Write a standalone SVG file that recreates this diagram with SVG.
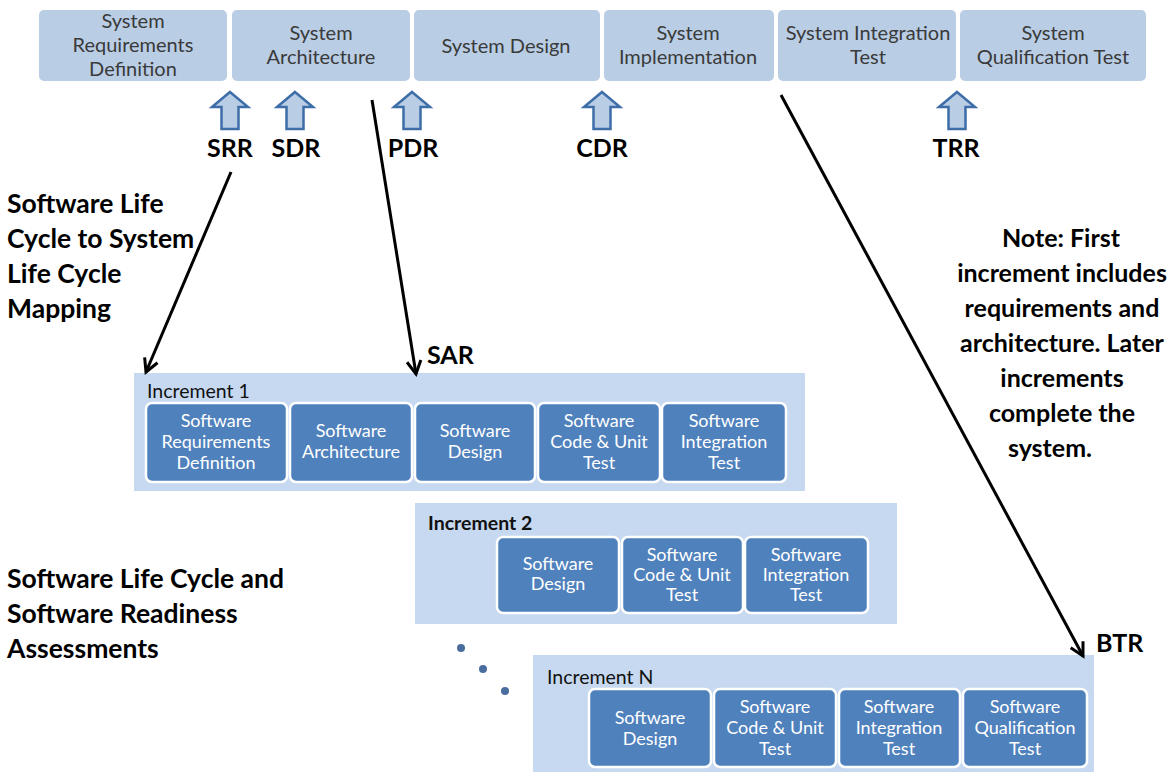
<svg xmlns="http://www.w3.org/2000/svg" width="1170" height="772" viewBox="0 0 1170 772">
  <defs>
    <style>
      .sys { fill: #b9cde5; stroke: #ffffff; stroke-width: 2; }
      .sys-t { font-family: Lato, "Liberation Sans", sans-serif; font-size: 20px; fill: #3a3a3a; text-anchor: middle; }
      .inc { fill: #c6d9f0; }
      .sw { fill: #4f81bd; stroke: #ffffff; stroke-width: 2.5; }
      .sw-t { font-family: Lato, "Liberation Sans", sans-serif; font-size: 18px; fill: #ffffff; text-anchor: middle; }
      .inc-t { font-family: Lato, "Liberation Sans", sans-serif; font-size: 19.5px; fill: #111111; }
      .big { font-family: Lato, "Liberation Sans", sans-serif; font-size: 25px; font-weight: 700; fill: #000000; }
      .cap { font-size: 26.5px; }
      .up { fill: #b9cde5; stroke: #3e6ea8; stroke-width: 2.5; stroke-linejoin: miter; }
      .conn { stroke: #000000; stroke-width: 3; fill: none; }
      .dot { fill: #4a6da0; }
    </style>
    <marker id="vhead" markerUnits="userSpaceOnUse" markerWidth="20" markerHeight="20" refX="15" refY="9" orient="auto">
      <path d="M2,2 L15,9 L2,16" fill="none" stroke="#000000" stroke-width="3"/>
    </marker>
    <path id="uparrow" class="up" d="M0,0 L18,15 L8.5,15 L8.5,37 L-8.5,37 L-8.5,15 L-18,15 Z"/>
  </defs>

  <rect width="1170" height="772" fill="#ffffff"/>

  <!-- system life cycle phases -->
  <g id="sys-req">
    <rect class="sys" x="38" y="9" width="190" height="73" rx="6"/>
    <text class="sys-t" x="133" y="28">System</text>
    <text class="sys-t" x="133" y="52">Requirements</text>
    <text class="sys-t" x="133" y="76">Definition</text>
  </g>
  <g id="sys-arch">
    <rect class="sys" x="231" y="9" width="180" height="73" rx="6"/>
    <text class="sys-t" x="321" y="40">System</text>
    <text class="sys-t" x="321" y="64">Architecture</text>
  </g>
  <g id="sys-design">
    <rect class="sys" x="413" y="9" width="188" height="73" rx="6"/>
    <text class="sys-t" x="506" y="53">System Design</text>
  </g>
  <g id="sys-impl">
    <rect class="sys" x="603" y="9" width="172" height="73" rx="6"/>
    <text class="sys-t" x="688" y="40">System</text>
    <text class="sys-t" x="688" y="64">Implementation</text>
  </g>
  <g id="sys-int">
    <rect class="sys" x="777" y="9" width="180" height="73" rx="6"/>
    <text class="sys-t" x="868" y="40">System Integration</text>
    <text class="sys-t" x="868" y="64">Test</text>
  </g>
  <g id="sys-qual">
    <rect class="sys" x="959" y="9" width="188" height="73" rx="6"/>
    <text class="sys-t" x="1053" y="40">System</text>
    <text class="sys-t" x="1053" y="64">Qualification Test</text>
  </g>

  <!-- review milestones -->
  <g id="srr">
    <use href="#uparrow" x="230" y="92"/>
    <text class="big" x="230" y="157" text-anchor="middle">SRR</text>
  </g>
  <g id="sdr">
    <use href="#uparrow" x="295" y="92"/>
    <text class="big" x="296" y="157" text-anchor="middle">SDR</text>
  </g>
  <g id="pdr">
    <use href="#uparrow" x="412" y="92"/>
    <text class="big" x="413" y="157" text-anchor="middle">PDR</text>
  </g>
  <g id="cdr">
    <use href="#uparrow" x="602" y="92"/>
    <text class="big" x="602" y="157" text-anchor="middle">CDR</text>
  </g>
  <g id="trr">
    <use href="#uparrow" x="957" y="92"/>
    <text class="big" x="956" y="157" text-anchor="middle">TRR</text>
  </g>

  <!-- side captions -->
  <g id="caption-mapping">
    <text class="big cap" x="7" y="213">Software Life</text>
    <text class="big cap" x="7" y="248">Cycle to System</text>
    <text class="big cap" x="7" y="283">Life Cycle</text>
    <text class="big cap" x="7" y="318">Mapping</text>
  </g>
  <g id="caption-readiness">
    <text class="big cap" x="7" y="588">Software Life Cycle and</text>
    <text class="big cap" x="7" y="623">Software Readiness</text>
    <text class="big cap" x="7" y="658">Assessments</text>
  </g>
  <g id="note" text-anchor="middle">
    <text class="big" x="1061" y="247">Note: First</text>
    <text class="big" x="1062" y="282">increment includes</text>
    <text class="big" x="1062" y="317">requirements and</text>
    <text class="big" x="1062" y="352">architecture. Later</text>
    <text class="big" x="1062" y="387">increments</text>
    <text class="big" x="1062" y="422">complete the</text>
    <text class="big" x="1050" y="457">system.</text>
  </g>

  <!-- increment 1 -->
  <g id="increment-1">
    <rect class="inc" x="134" y="373" width="671" height="118"/>
    <text class="inc-t" x="147" y="398">Increment 1</text>
    <rect class="sw" x="146" y="403" width="141" height="79" rx="6"/>
    <text class="sw-t" x="216" y="427">Software</text>
    <text class="sw-t" x="216" y="448">Requirements</text>
    <text class="sw-t" x="216" y="469">Definition</text>
    <rect class="sw" x="290" y="403" width="122" height="79" rx="6"/>
    <text class="sw-t" x="351" y="437">Software</text>
    <text class="sw-t" x="351" y="458">Architecture</text>
    <rect class="sw" x="415" y="403" width="120" height="79" rx="6"/>
    <text class="sw-t" x="475" y="437">Software</text>
    <text class="sw-t" x="475" y="458">Design</text>
    <rect class="sw" x="538" y="403" width="122" height="79" rx="6"/>
    <text class="sw-t" x="599" y="427">Software</text>
    <text class="sw-t" x="599" y="448">Code &amp; Unit</text>
    <text class="sw-t" x="599" y="469">Test</text>
    <rect class="sw" x="662" y="403" width="124" height="79" rx="6"/>
    <text class="sw-t" x="724" y="427">Software</text>
    <text class="sw-t" x="724" y="448">Integration</text>
    <text class="sw-t" x="724" y="469">Test</text>
  </g>

  <!-- increment 2 -->
  <g id="increment-2">
    <rect class="inc" x="415" y="503" width="482" height="121"/>
    <text class="inc-t" x="428" y="530" font-weight="700">Increment 2</text>
    <rect class="sw" x="497" y="537" width="122" height="76" rx="6"/>
    <text class="sw-t" x="558" y="570">Software</text>
    <text class="sw-t" x="558" y="590">Design</text>
    <rect class="sw" x="622" y="537" width="121" height="76" rx="6"/>
    <text class="sw-t" x="682" y="561">Software</text>
    <text class="sw-t" x="682" y="581">Code &amp; Unit</text>
    <text class="sw-t" x="682" y="601">Test</text>
    <rect class="sw" x="745" y="537" width="123" height="76" rx="6"/>
    <text class="sw-t" x="806" y="561">Software</text>
    <text class="sw-t" x="806" y="581">Integration</text>
    <text class="sw-t" x="806" y="601">Test</text>
  </g>

  <!-- ellipsis between increments -->
  <g id="ellipsis">
    <circle class="dot" cx="461" cy="648" r="4"/>
    <circle class="dot" cx="483" cy="669" r="4"/>
    <circle class="dot" cx="505" cy="691" r="4"/>
  </g>

  <!-- increment N -->
  <g id="increment-n">
    <rect class="inc" x="533" y="655" width="561" height="117"/>
    <text class="inc-t" x="547" y="684">Increment N</text>
    <rect class="sw" x="589" y="689" width="122" height="78" rx="6"/>
    <text class="sw-t" x="650" y="724">Software</text>
    <text class="sw-t" x="650" y="745">Design</text>
    <rect class="sw" x="714" y="689" width="122" height="78" rx="6"/>
    <text class="sw-t" x="775" y="713">Software</text>
    <text class="sw-t" x="775" y="734">Code &amp; Unit</text>
    <text class="sw-t" x="775" y="755">Test</text>
    <rect class="sw" x="839" y="689" width="121" height="78" rx="6"/>
    <text class="sw-t" x="899" y="713">Software</text>
    <text class="sw-t" x="899" y="734">Integration</text>
    <text class="sw-t" x="899" y="755">Test</text>
    <rect class="sw" x="963" y="689" width="124" height="78" rx="6"/>
    <text class="sw-t" x="1025" y="713">Software</text>
    <text class="sw-t" x="1025" y="734">Qualification</text>
    <text class="sw-t" x="1025" y="755">Test</text>
  </g>

  <!-- mapping connectors -->
  <g id="connectors">
    <line class="conn" x1="231" y1="172" x2="146" y2="372" marker-end="url(#vhead)"/>
    <line class="conn" x1="372" y1="100" x2="416" y2="374" marker-end="url(#vhead)"/>
    <line class="conn" x1="781" y1="95" x2="1083" y2="656" marker-end="url(#vhead)"/>
  </g>
  <g id="review-labels">
    <text class="big" x="427" y="364">SAR</text>
    <text class="big" x="1096" y="652">BTR</text>
  </g>
</svg>
